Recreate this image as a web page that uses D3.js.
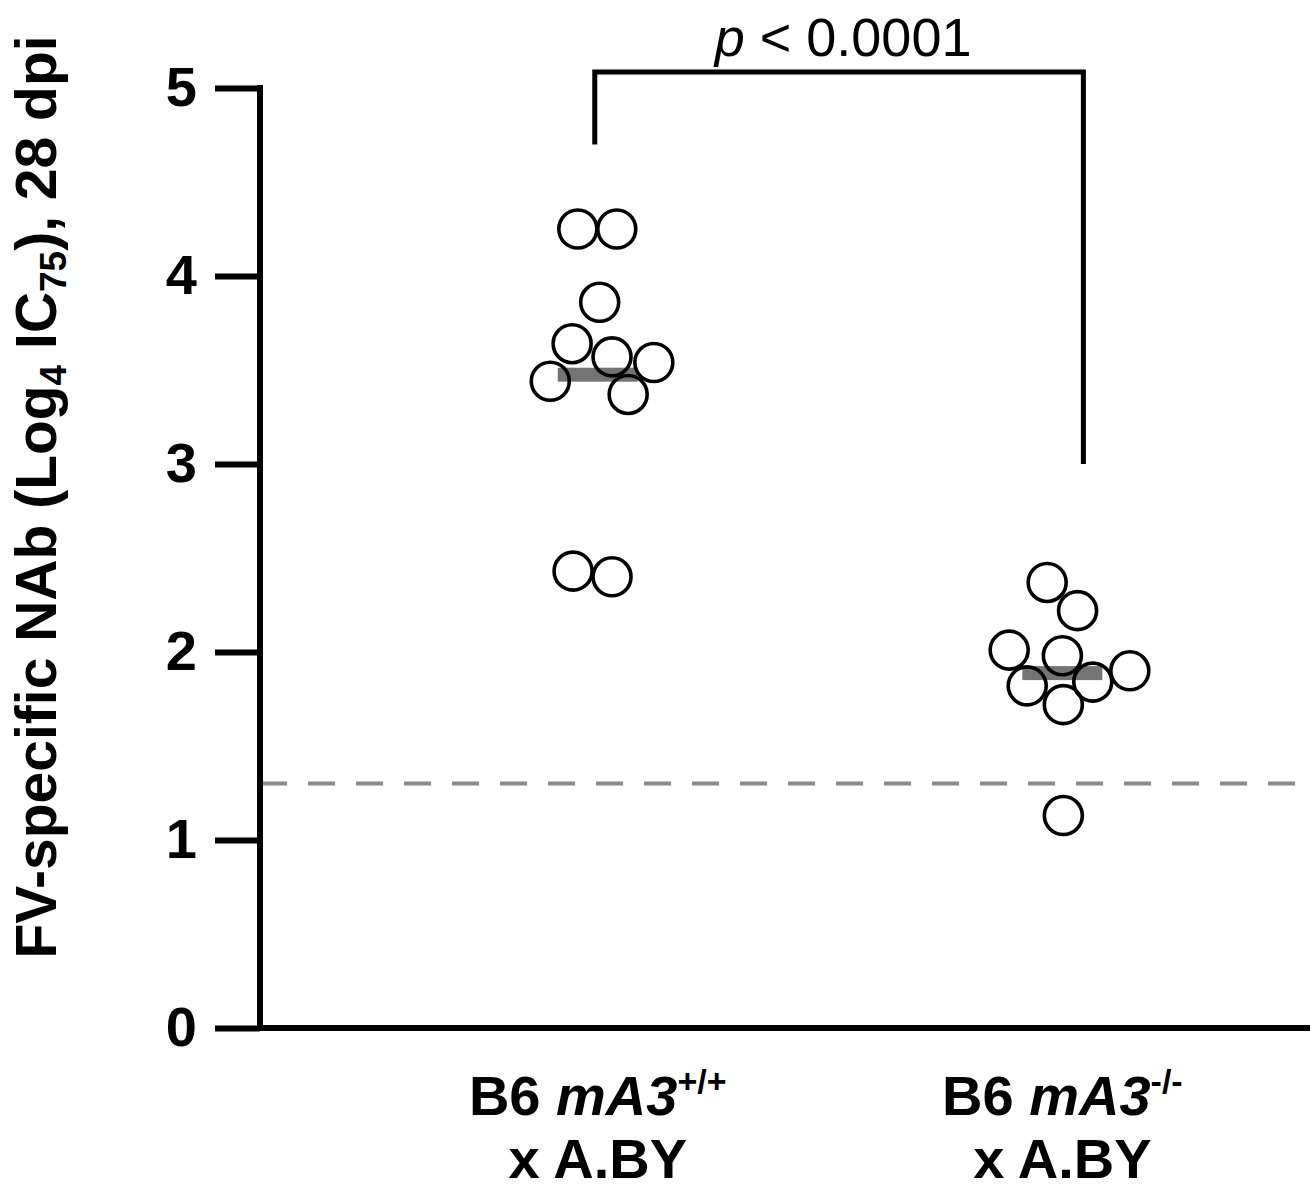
<!DOCTYPE html>
<html>
<head>
<meta charset="utf-8">
<script src="https://cdn.jsdelivr.net/npm/d3@7"></script>
<style>
  body { margin: 0; background: #fff; }
  svg { display: block; font-family: "Liberation Sans", Arial, Helvetica, sans-serif; }
</style>
</head>
<body>
<svg></svg>
<script>
// clear the svg
d3.selectAll("svg > *").remove();

/*
 * Data
 */
const GROUPS = ["wt", "ko"];
// NAb titres (log4 IC75), one entry per mouse
const VALUES_WT = [4.25, 4.25, 3.86, 3.64, 3.57, 3.54, 3.44, 3.37, 2.43, 2.40];
const VALUES_KO = [2.37, 2.22, 2.01, 1.98, 1.90, 1.82, 1.84, 1.72, 1.13];
// horizontal scatter of each dot, in dot radii from the group centre
const JITTER_WT = [-1.05, 1.0, 0.1, -1.35, 0.75, 2.95, -2.5, 1.6, -1.3, 0.75];
const JITTER_KO = [-0.8, 0.8, -2.8, 0.0, 3.55, -1.85, 1.6, 0.05, 0.05];
const DETECTION_LIMIT = 1.3;
const Y_TICKS = [0, 1, 2, 3, 4, 5];
const P_LABEL = "< 0.0001";
// bracket: top of the bracket and where each leg stops (y values)
const BRACKET_TOP = 5.085;
const BRACKET_LEGS = [4.7, 3.0];

/*
 * Viz constants
 */
const SVG_WIDTH = 1315;
const SVG_HEIGHT = 1189;
const PLOT_LEFT = 260;
const PLOT_RIGHT = 1310;
const PLOT_TOP = 88;
const PLOT_BOTTOM = 1028;
const DOT_R = 19;
const AXIS_W = 6;
const TICK_LEN = 45;

const svg = d3.select("svg")
  .attr("width", SVG_WIDTH)
  .attr("height", SVG_HEIGHT);

const y = d3.scaleLinear().domain([0, 5]).range([PLOT_BOTTOM, PLOT_TOP]);
const x = d3.scalePoint()
  .domain(GROUPS)
  .range([PLOT_LEFT, PLOT_RIGHT])
  .padding(0.63)
  .align(0.577);

// detection limit line
svg.append("line")
  .attr("x1", PLOT_LEFT)
  .attr("x2", PLOT_RIGHT)
  .attr("y1", y(DETECTION_LIMIT))
  .attr("y2", y(DETECTION_LIMIT))
  .attr("stroke", "#8c8c8c")
  .attr("stroke-width", 4)
  .attr("stroke-dasharray", "27,21");

// dots + mean bars
const groups = [
  { key: "wt", values: VALUES_WT, jitter: JITTER_WT },
  { key: "ko", values: VALUES_KO, jitter: JITTER_KO }
];

groups.forEach(g => {
  const cx = x(g.key);
  const m = d3.mean(g.values);
  svg.append("rect")
    .attr("x", cx - 40)
    .attr("y", y(m) - 7)
    .attr("width", 80)
    .attr("height", 14)
    .attr("fill", "#747474");

  svg.append("g")
    .selectAll("circle")
    .data(g.values)
    .join("circle")
    .attr("cx", (d, i) => cx + g.jitter[i] * DOT_R)
    .attr("cy", d => y(d))
    .attr("r", DOT_R)
    .attr("fill", "none")
    .attr("stroke", "#000")
    .attr("stroke-width", 3.6);
});

// y axis
const yAxis = svg.append("g")
  .attr("transform", `translate(${PLOT_LEFT},0)`)
  .call(d3.axisLeft(y).tickValues(Y_TICKS).tickSize(TICK_LEN).tickPadding(18).tickFormat(d3.format("d")));
yAxis.select(".domain").remove();
yAxis.selectAll(".tick line").attr("stroke", "#000").attr("stroke-width", AXIS_W);
yAxis.selectAll(".tick text")
  .attr("font-size", 56)
  .attr("font-weight", "bold")
  .attr("fill", "#000")
  .attr("font-family", "Liberation Sans, Arial, sans-serif");

svg.append("line")
  .attr("x1", PLOT_LEFT).attr("x2", PLOT_LEFT)
  .attr("y1", y(5) - AXIS_W / 2).attr("y2", y(0) + AXIS_W / 2)
  .attr("stroke", "#000").attr("stroke-width", AXIS_W);

// x axis line
svg.append("line")
  .attr("x1", PLOT_LEFT).attr("x2", PLOT_RIGHT)
  .attr("y1", y(0)).attr("y2", y(0))
  .attr("stroke", "#000").attr("stroke-width", AXIS_W);

// y axis title
const yTitle = svg.append("text")
  .attr("transform", `translate(56, ${(PLOT_TOP + PLOT_BOTTOM) / 2 - 61}) rotate(-90)`)
  .attr("text-anchor", "middle")
  .attr("font-size", 57)
  .attr("font-weight", "bold");
yTitle.append("tspan").text("FV-specific NAb (Log");
yTitle.append("tspan").attr("font-size", 37).attr("dy", 10).text("4");
yTitle.append("tspan").attr("dy", -10).text(" IC");
yTitle.append("tspan").attr("font-size", 37).attr("dy", 10).text("75");
yTitle.append("tspan").attr("dy", -10).text("), 28 dpi");

// category labels
const catLabels = [
  { key: "wt", sup: "+/+" },
  { key: "ko", sup: "-/-" }
];
catLabels.forEach(c => {
  const t = svg.append("text")
    .attr("x", x(c.key))
    .attr("y", 1115)
    .attr("text-anchor", "middle")
    .attr("font-size", 56)
    .attr("font-weight", "bold");
  t.append("tspan").text("B6 ");
  t.append("tspan").attr("font-style", "italic").text("mA3");
  t.append("tspan").attr("font-size", 34).attr("dy", -22).text(c.sup);

  svg.append("text")
    .attr("x", x(c.key))
    .attr("y", 1178)
    .attr("text-anchor", "middle")
    .attr("font-size", 56)
    .attr("font-weight", "bold")
    .text("x A.BY");
});

// significance bracket
const bx0 = x("wt") - 3;
const bx1 = x("ko") + 21;
svg.append("path")
  .attr("d", `M${bx0},${y(BRACKET_LEGS[0])} V${y(BRACKET_TOP)} H${bx1} V${y(BRACKET_LEGS[1])}`)
  .attr("fill", "none")
  .attr("stroke", "#000")
  .attr("stroke-width", 5);

const pText = svg.append("text")
  .attr("x", (bx0 + bx1) / 2 + 4)
  .attr("y", 56)
  .attr("text-anchor", "middle")
  .attr("font-size", 54);
pText.append("tspan").attr("font-style", "italic").text("p");
pText.append("tspan").text(" " + P_LABEL);
</script>
</body>
</html>
